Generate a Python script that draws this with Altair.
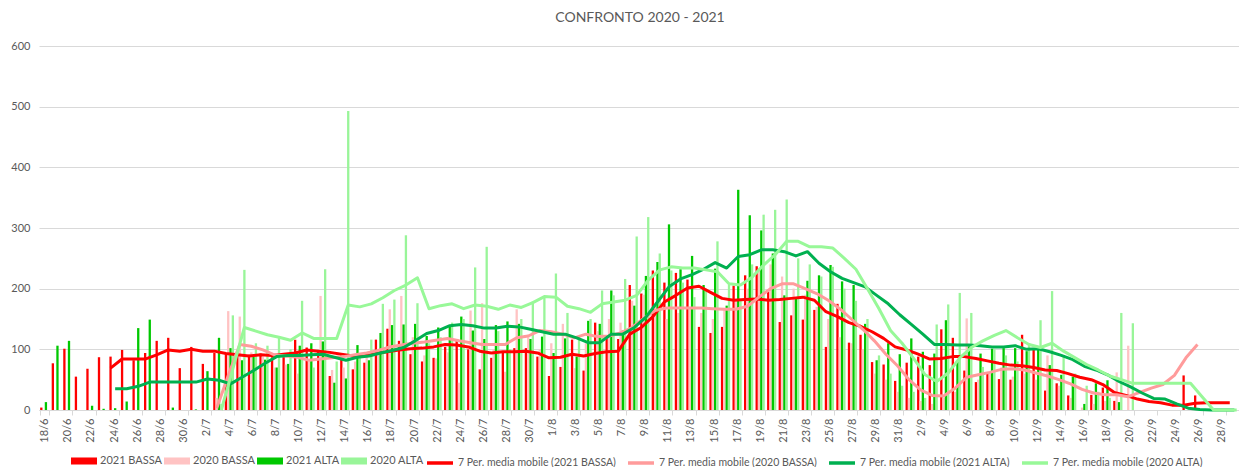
import altair as alt
import pandas as pd

# ---------------- categories ----------------
months = [(6, 18, 30), (7, 1, 31), (8, 1, 31), (9, 1, 29)]
dates = [f"{d}/{m}" for m, a, b in months for d in range(a, b + 1)]
N = len(dates)

# ---------------- daily bars ----------------
bassa_2021 = [4, 77, 101, 55, 68, 87, 88, 99, 82, 94,
              114, 119, 69, 104, 76, 94, 92, 96, 91, 93,
              87, 88, 116, 103, 99, 56, 94, 67, 78, 116,
              134, 114, 92, 80, 86, 104, 117, 100, 67, 86,
              96, 102, 102, 88, 56, 71, 116, 65, 144, 118,
              117, 206, 192, 230, 210, 226, 215, 137, 127, 137,
              205, 222, 237, 195, 145, 156, 149, 165, 104, 175,
              111, 124, 79, 75, 48, 78, 88, 74, 133, 119,
              65, 46, 60, 51, 50, 124, 99, 32, 44, 24,
              0, 25, 37, 15, 0, 0, 0, 0, 0, 57,
              24, 0, 0, 0]

alta_2021 = [13, 106, 114, 0, 7, 2, 3, 14, 135, 149,
             0, 4, 0, 1, 64, 119, 102, 82, 88, 83,
             70, 76, 106, 110, 113, 45, 52, 107, 82, 127,
             140, 141, 142, 122, 136, 139, 154, 131, 117, 140,
             146, 142, 117, 121, 94, 118, 88, 147, 142, 197,
             131, 172, 221, 244, 306, 232, 254, 206, 233, 172,
             363, 321, 296, 258, 189, 185, 213, 222, 239, 212,
             206, 142, 82, 110, 92, 118, 96, 93, 148, 80,
             105, 93, 101, 102, 102, 97, 100, 74, 58, 55,
             10, 44, 49, 13, 0, 0, 0, 0, 0, 0,
             0, 0, 0, 0]

bassa_2020 = [None] * 15 + [
    20, 163, 154, 95, 88, 70, 75, 60, 80, 188,
    66, 70, 80, 95, 100, 166, 188, 120, 90, 85,
    95, 45, 164, 176, 100, 63, 166, 120, 100, 110,
    142, 69, 110, 130, 150, 144, 180, 190, 170, 150,
    160, 170, 160, 150, 165, 180, 200, 230, 240, 220,
    200, 190, 170, 150, 120, 110, 100, 60, 50, 30,
    20, 15, 10, 20, 30, 151, 50, 60, 70, 55,
    60, 50, 90, 40, 20, 4, 10, 15, 62, 106] + [None] * 9

alta_2020 = [None] * 15 + [
    10, 156, 231, 110, 106, 120, 100, 180, 70, 232,
    80, 493, 90, 116, 175, 182, 288, 176, 110, 120,
    144, 150, 235, 269, 130, 100, 150, 179, 186, 225,
    160, 120, 150, 197, 189, 216, 286, 318, 258, 230,
    210, 186, 200, 278, 206, 180, 240, 322, 330, 347,
    250, 240, 220, 236, 200, 180, 150, 90, 60, 40,
    30, 20, 141, 174, 193, 160, 71, 100, 90, 80,
    110, 148, 196, 90, 60, 40, 30, 20, 160, 143] + [None] * 9

# ---------------- 7-period moving averages (as drawn) ----------------
ma_bassa_2021 = [None] * 6 + [
    69, 84, 84, 84, 91, 99, 97, 100, 97, 97,
    93, 91, 89, 91, 90, 92, 94, 99, 97, 95,
    92, 89, 90, 93, 96, 99, 101, 102, 104, 108,
    107, 104, 97, 94, 96, 96, 97, 94, 86, 87,
    92, 89, 93, 96, 97, 125, 136, 154, 178, 189,
    201, 204, 194, 184, 181, 182, 183, 181, 182, 184,
    186, 181, 162, 154, 144, 138, 129, 118, 104, 99,
    92, 84, 85, 88, 88, 85, 81, 77, 74, 73,
    70, 66, 65, 60, 54, 50, 42, 29, 24, 18,
    14, 12, 8, 8, 11, 12, 12, 12]

ma_bassa_2020 = [None] * 15 + [
    3, 57, 108, 105, 99, 91, 89, 87, 82, 84,
    86, 88, 91, 94, 98, 104, 107, 110, 112, 115,
    118, 114, 111, 108, 108, 108, 119, 122, 131, 129,
    125, 119, 125, 121, 122, 127, 136, 151, 164, 168,
    168, 168, 168, 167, 166, 166, 171, 186, 200, 208,
    208, 200, 192, 181, 167, 150, 133, 114, 92, 73,
    50, 33, 24, 23, 36, 54, 58, 62, 67, 68,
    66, 61, 56, 50, 43, 34, 28, 25, 25, 22,
    29, 36, 42, 57, 86, 108] + [None] * 3

ma_alta_2021 = [None] * 6 + [
    35, 35, 39, 46, 46, 46, 46, 46, 51, 49,
    43, 54, 65, 77, 88, 90, 90, 91, 92, 87,
    82, 87, 89, 94, 98, 103, 114, 126, 131, 139,
    141, 139, 135, 135, 138, 137, 133, 129, 125, 125,
    119, 111, 111, 125, 125, 136, 153, 178, 203, 216,
    223, 232, 243, 234, 253, 256, 264, 264, 261, 254,
    261, 242, 228, 217, 210, 203, 189, 175, 157, 141,
    125, 108, 108, 107, 107, 106, 104, 104, 106, 100,
    101, 96, 90, 83, 72, 66, 58, 47, 38, 28,
    19, 18, 10, 3, 1, 0, 0, 0]

ma_alta_2020 = [None] * 15 + [
    0, 68, 136, 130, 124, 120, 115, 127, 118, 118,
    118, 173, 170, 175, 185, 197, 206, 218, 167, 172,
    175, 167, 173, 171, 166, 173, 169, 177, 187, 186,
    171, 167, 161, 175, 178, 181, 189, 214, 231, 236,
    234, 234, 231, 228, 208, 206, 219, 239, 256, 278,
    278, 269, 269, 267, 250, 232, 200, 167, 131, 110,
    85, 58, 47, 61, 86, 103, 114, 123, 131, 119,
    108, 103, 110, 97, 86, 75, 66, 56, 50, 44,
    44, 44, 44, 44, 44, 22, 0, 0, 0]

title_text = ["CONFRONTO 2020 - 2021"]

bar_series = ["2021 BASSA", "2020 BASSA", "2021 ALTA", "2020 ALTA"]
bar_colors = ["#FF0000", "#FFC3C3", "#00C800", "#99F599"]
bar_values = [bassa_2021, bassa_2020, alta_2021, alta_2020]

ma_series = ["7 Per. media mobile (2021 BASSA)", "7 Per. media mobile (2020 BASSA)",
             "7 Per. media mobile (2021 ALTA)", "7 Per. media mobile (2020 ALTA)"]
ma_colors = ["#FF0000", "#FF9B9B", "#00B050", "#98F898"]
ma_values = [ma_bassa_2021, ma_bassa_2020, ma_alta_2021, ma_alta_2020]
ma_shift = [-3.46, -1.15, 1.15, 3.46]

rows = []
for s, vals in zip(bar_series, bar_values):
    for d, v in zip(dates, vals):
        if v is not None:
            rows.append({"date": d, "series": s, "value": v})
bars_df = pd.DataFrame(rows)

FONT = "Lato"
GREY = "#595959"
LINE = "#D9D9D9"

x_scale = alt.Scale(domain=dates, paddingInner=0.2, paddingOuter=0.1)
x_axis = alt.Axis(values=dates[::2], labelAngle=270, tickBand="extent", grid=False,
                  domainColor=LINE, tickColor=LINE, tickSize=5, labelPadding=3,
                  labelFontSize=11, labelColor=GREY, labelFont=FONT, title=None)
y_scale = alt.Scale(domain=[0, 600], nice=False)
y_axis = alt.Axis(values=[0, 100, 200, 300, 400, 500, 600], grid=True, gridColor=LINE,
                  domain=False, ticks=False, labelPadding=9, labelFontSize=11,
                  labelColor=GREY, labelFont=FONT, title=None)

bars = alt.Chart(bars_df).mark_bar().encode(
    x=alt.X("date:N", scale=x_scale, axis=x_axis),
    xOffset=alt.XOffset("series:N", scale=alt.Scale(domain=bar_series, paddingInner=0, paddingOuter=0)),
    y=alt.Y("value:Q", scale=y_scale, axis=y_axis),
    color=alt.Color("series:N", scale=alt.Scale(domain=bar_series, range=bar_colors),
                    legend=alt.Legend(orient="none", legendX=32, legendY=402, direction="horizontal",
                                      title=None, symbolType="M-1,-0.27H1V0.27H-1Z", symbolSize=676,
                                      symbolStrokeWidth=0, labelFontSize=11, labelColor=GREY,
                                      labelFont=FONT, labelOffset=3, columnPadding=1,
                                      labelLimit=0)),
)

line_scale = alt.Scale(domain=ma_series, range=ma_colors)
line_legend = alt.Legend(orient="none", legendX=386, legendY=402, direction="horizontal",
                         title=None, symbolType="stroke", symbolSize=676, symbolStrokeWidth=3.5,
                         labelFontSize=10.5, labelColor=GREY, labelFont=FONT, labelOffset=3,
                         columnPadding=5, labelLimit=0)

line_layers = []
for s, vals, shift in zip(ma_series, ma_values, ma_shift):
    df = pd.DataFrame([{"date": d, "series": s, "value": v}
                       for d, v in zip(dates, vals) if v is not None])
    line_layers.append(
        alt.Chart(df).mark_line(strokeWidth=3, xOffset=shift, strokeJoin="round").encode(
            x=alt.X("date:N", scale=x_scale, axis=x_axis),
            y=alt.Y("value:Q", scale=y_scale, axis=y_axis),
            color=alt.Color("series:N", scale=line_scale, legend=line_legend),
        )
    )

lines = alt.layer(*line_layers)

title = alt.Chart(pd.DataFrame({"t": title_text})).mark_text(
    fontSize=14, color=GREY, font=FONT, baseline="middle", align="center"
).encode(text="t:N", x=alt.value(601), y=alt.value(-28))

chart = alt.layer(bars, lines, title).resolve_scale(color="independent").properties(
    width=1200, height=364,
    autosize=alt.AutoSizeParams(type="none"),
    padding={"left": 31, "top": 38, "right": 0, "bottom": 57},
).configure_view(stroke=None)

chart.save("out.html", embed_options={"renderer": "svg", "actions": False})
